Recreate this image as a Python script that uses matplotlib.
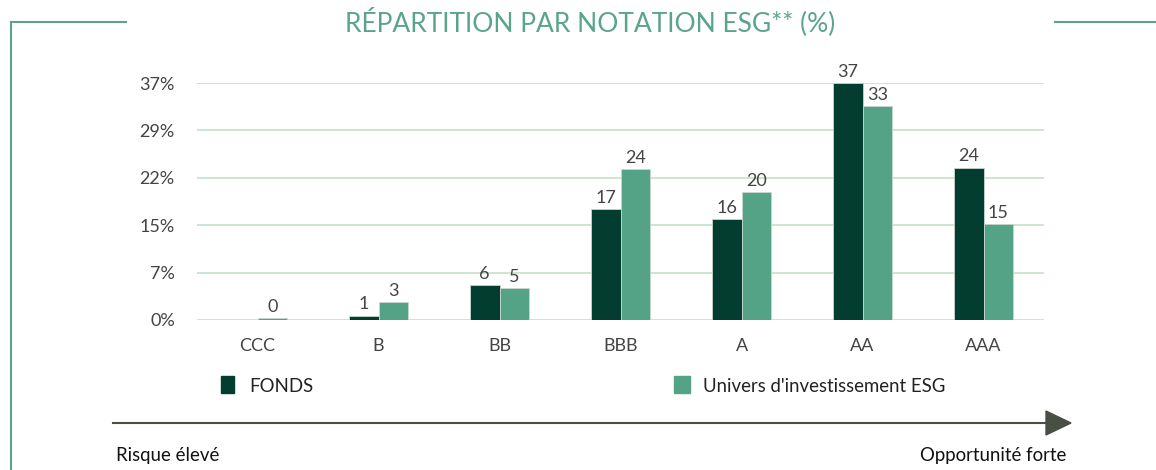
import matplotlib.pyplot as plt
from matplotlib.lines import Line2D
from matplotlib.patches import Rectangle

plt.rcParams['font.family'] = ['Lato', 'DejaVu Sans']

ratings = ['CCC', 'B', 'BB', 'BBB', 'A', 'AA', 'AAA']
fonds = [0.0, 0.7, 5.5, 17.3, 15.8, 37.0, 23.8]
univers = [0.3, 2.8, 5.0, 23.6, 20.0, 33.4, 15.0]
yticks = [0, 7.4, 14.8, 22.2, 29.6, 37.0]
ytick_labels = ['0%', '7%', '15%', '22%', '29%', '37%']

DARK = '#023d30'
LIGHT = '#55a386'
FRAME = '#5aa58a'
TEXT = '#444444'


def main():
    fig = plt.figure(figsize=(11.56, 4.70), dpi=100)
    ax = fig.add_axes([197 / 1156, 150 / 470, 847 / 1156, 237 / 470])

    x = list(range(len(ratings)))
    w = 0.245
    b1 = ax.bar([i - w / 2 for i in x], fonds, w, color=DARK,
                edgecolor='#c9d6cf', linewidth=0.6, zorder=3)
    b2 = ax.bar([i + w / 2 for i in x], univers, w, color=LIGHT,
                edgecolor='#c9d6cf', linewidth=0.6, zorder=3)
    for bars, vals in ((b1, fonds), (b2, univers)):
        for r, v in zip(bars, vals):
            if v == 0:
                continue
            ax.text(r.get_x() + r.get_width() / 2, v + 0.5, f'{v:.0f}',
                    ha='center', va='bottom', fontsize=13, color=TEXT,
                    clip_on=False)

    ax.set_xlim(-0.5, len(ratings) - 0.5)
    ax.set_ylim(0, 37)
    ax.set_yticks(yticks)
    ax.set_yticklabels(ytick_labels)
    ax.set_xticks(x)
    ax.set_xticklabels(ratings)
    ax.tick_params(axis='y', length=0, pad=16, labelsize=13, labelcolor=TEXT)
    ax.tick_params(axis='x', length=0, pad=13, labelsize=13, labelcolor=TEXT)
    ax.grid(axis='y', color='#c6dfca', linewidth=1.2, zorder=0)
    for s in ax.spines.values():
        s.set_visible(False)

    # frame lines
    fig.add_artist(Line2D([11 / 1156, 11 / 1156], [0, 1 - 22 / 470],
                          color=FRAME, lw=1.5))
    fig.add_artist(Line2D([11 / 1156, 126 / 1156], [1 - 22 / 470] * 2,
                          color=FRAME, lw=1.5))
    fig.add_artist(Line2D([1055 / 1156, 1156 / 1156], [1 - 22 / 470] * 2,
                          color=FRAME, lw=1.5))
    fig.text(590 / 1156, 1 - 22 / 470, 'RÉPARTITION PAR NOTATION ESG** (%)',
             ha='center', va='center', fontsize=19, color=FRAME)

    # legend
    fig.add_artist(Rectangle((221 / 1156, 1 - 393 / 470), 13 / 1156, 17 / 470,
                             color=DARK))
    fig.text(249 / 1156, 1 - 386 / 470, 'FONDS', va='center', fontsize=13.4,
             color='#222222')
    fig.add_artist(Rectangle((674 / 1156, 1 - 393 / 470), 16 / 1156, 17 / 470,
                             color=LIGHT))
    fig.text(703 / 1156, 1 - 386 / 470, "Univers d'investissement ESG",
             va='center', fontsize=13.4, color='#222222')

    # risk arrow
    ax_y = 1 - 423 / 470
    fig.add_artist(Line2D([113 / 1156, 1050 / 1156], [ax_y, ax_y],
                          color='#4a4f45', lw=1.5))
    fig.patches.append(plt.Polygon(
        [[1046 / 1156, ax_y + 12 / 470], [1046 / 1156, ax_y - 12 / 470],
         [1071 / 1156, ax_y]], closed=True, color='#4a4f45',
        transform=fig.transFigure, figure=fig))
    fig.text(116 / 1156, 1 - 455 / 470, 'Risque élevé', va='center',
             fontsize=13.4, color='#111111')
    fig.text(1066 / 1156, 1 - 455 / 470, 'Opportunité forte', va='center',
             ha='right', fontsize=13.4, color='#111111')

    fig.savefig('out.png', dpi=100)


if __name__ == '__main__':
    main()
